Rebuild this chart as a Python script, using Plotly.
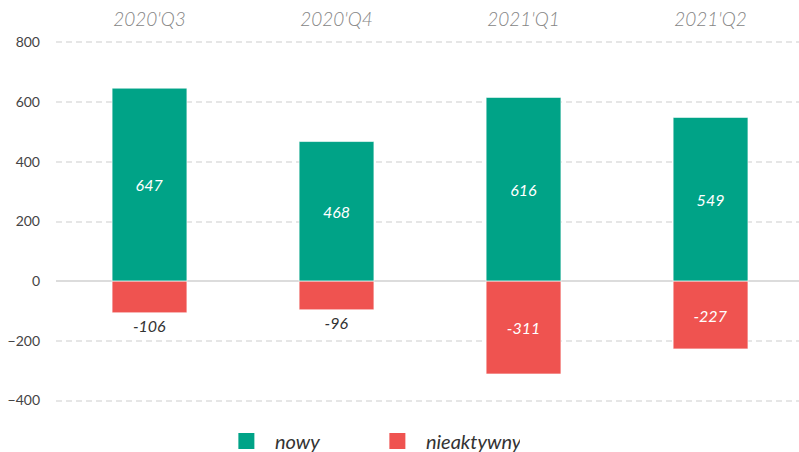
import plotly.graph_objects as go

categories = ["2020'Q3", "2020'Q4", "2021'Q1", "2021'Q2"]
nowy = [647, 468, 616, 549]
nieaktywny = [-106, -96, -311, -227]
y_ticks = [-400, -200, 0, 200, 400, 600, 800]

TEAL = "#00A387"
RED = "#EF5350"
FONT = "Lato"

x_idx = list(range(len(categories)))

def positions(vals):
    return ["inside" if abs(v) > 150 else "outside" for v in vals]

fig = go.Figure()
for name, vals, col in [("nowy", nowy, TEAL), ("nieaktywny", nieaktywny, RED)]:
    fig.add_trace(go.Bar(
        x=x_idx, y=vals, width=0.4, name=name, showlegend=False,
        marker=dict(color=col, line=dict(color="rgba(255,255,255,0.6)", width=1)),
        text=[str(v) for v in vals], textposition=positions(vals),
        insidetextanchor="middle",
        insidetextfont=dict(family=FONT, size=16, color="white", style="italic"),
        outsidetextfont=dict(family=FONT, size=16, color="#333333", style="italic"),
        cliponaxis=False,
    ))
# legend entries
for name, col in [("nowy", TEAL), ("nieaktywny", RED)]:
    fig.add_trace(go.Scatter(
        x=[None], y=[None], mode="markers", name=name,
        marker=dict(symbol="square", size=19, color=col),
    ))

H_TOP = 40.5
H_BOT = 452 - 402.5

fig.update_layout(
    width=799, height=452,
    margin=dict(l=56, r=0, t=H_TOP, b=H_BOT, pad=0),
    plot_bgcolor="white", paper_bgcolor="white",
    barmode="relative",
    font=dict(family=FONT, color="#444444"),
    legend=dict(orientation="h", x=0.4211, xanchor="center",
                yref="container", y=1 - 441 / 452, yanchor="middle",
                font=dict(family=FONT, size=20, color="#333333", style="italic"),
                itemwidth=47, traceorder="normal",
                entrywidth=89, entrywidthmode="pixels"),
    xaxis=dict(
        side="top", tickmode="array", tickvals=x_idx, ticktext=categories,
        range=[-0.5, 3.473], showgrid=False, zeroline=False, showline=False,
        tickfont=dict(family=FONT, size=19, color="#858585", style="italic", weight=300),
        ticks="", ticklabelstandoff=10, automargin=False,
    ),
    yaxis=dict(
        range=[-405, 805], tickmode="array", tickvals=y_ticks,
        showgrid=True, gridcolor="#e6e6e6", griddash="6px,4px", gridwidth=1.5,
        zeroline=True, zerolinecolor="#dcdcdc", zerolinewidth=1.5,
        tickfont=dict(family=FONT, size=14, color="#444444"),
        ticks="", ticklabelstandoff=15, showline=False, automargin=False,
    ),
)
fig.write_html("out.html", config={"displayModeBar": False},
               post_script="document.body.style.margin='0';")
